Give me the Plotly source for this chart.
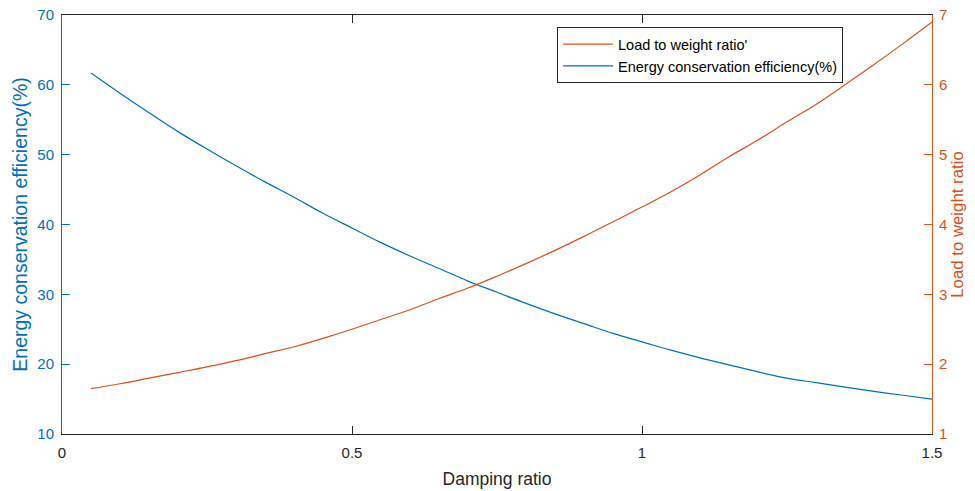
import plotly.graph_objects as go

damping = [0.05, 0.10, 0.15, 0.20, 0.25, 0.30, 0.35, 0.40, 0.45, 0.50,
           0.55, 0.60, 0.65, 0.70, 0.75, 0.80, 0.85, 0.90, 0.95, 1.00,
           1.05, 1.10, 1.15, 1.20, 1.25, 1.30, 1.35, 1.40, 1.45, 1.50]
efficiency = [61.7, 58.8, 56.0, 53.3, 50.8, 48.4, 46.1, 43.9, 41.6, 39.5,
              37.4, 35.5, 33.7, 31.9, 30.3, 28.7, 27.2, 25.8, 24.4, 23.2,
              22.0, 20.9, 19.9, 18.9, 18.0, 17.35, 16.7, 16.1, 15.55, 15.0]
load_ratio = [1.65, 1.72, 1.80, 1.88, 1.96, 2.05, 2.15, 2.25, 2.37, 2.50,
              2.64, 2.78, 2.94, 3.09, 3.26, 3.44, 3.63, 3.83, 4.04, 4.25,
              4.47, 4.71, 4.97, 5.21, 5.47, 5.72, 6.00, 6.29, 6.59, 6.90]

x_ticks = [0, 0.5, 1, 1.5]
x_labels = ["0", "0.5", "1", "1.5"]
left_ticks = [10, 20, 30, 40, 50, 60, 70]
right_ticks = [1, 2, 3, 4, 5, 6, 7]

BLUE = "#0072BD"
ORANGE = "#D95319"
DARK = "#262626"
FONT = "Liberation Sans, Arial, Helvetica, sans-serif"

fig = go.Figure()
fig.add_trace(go.Scatter(x=damping, y=efficiency, mode="lines",
                         name="Energy conservation efficiency(%)",
                         line=dict(color=BLUE, width=1.2, shape="spline"),
                         yaxis="y", legendrank=2))
fig.add_trace(go.Scatter(x=damping, y=load_ratio, mode="lines",
                         name="Load to weight ratio'",
                         line=dict(color=ORANGE, width=1.2, shape="spline"),
                         yaxis="y2", legendrank=1))

fig.update_layout(
    width=975, height=491,
    margin=dict(l=62, r=43, t=15, b=57, autoexpand=False),
    paper_bgcolor="white", plot_bgcolor="white",
    font=dict(family=FONT, size=15, color=DARK),
    xaxis=dict(range=[0, 1.5], tickvals=x_ticks, ticktext=x_labels,
               automargin=False,
               showgrid=False, zeroline=False, showline=True, linecolor=DARK,
               linewidth=1, mirror="ticks", ticks="inside", ticklen=8,
               tickcolor=DARK, tickfont=dict(size=15, color=DARK),
               ticklabelstandoff=5,
               title=dict(text="Damping ratio", font=dict(size=17.5, color=DARK),
                          standoff=12)),
    yaxis=dict(range=[10, 70], tickvals=left_ticks, showgrid=False,
               automargin=False,
               zeroline=False, showline=True, linecolor=BLUE, linewidth=1,
               ticks="inside", ticklen=8, tickcolor=BLUE,
               tickfont=dict(size=15, color=BLUE), ticklabelstandoff=4,
               title=dict(text="Energy conservation efficiency(%)",
                          font=dict(size=19.5, color=BLUE), standoff=4)),
    yaxis2=dict(range=[1, 7], tickvals=right_ticks, overlaying="y",
                automargin=False,
                side="right", showgrid=False, zeroline=False, showline=True,
                linecolor=ORANGE, linewidth=1, ticks="inside", ticklen=8,
                tickcolor=ORANGE, tickfont=dict(size=15, color=ORANGE),
                ticklabelstandoff=3,
                title=dict(text="Load to weight ratio",
                           font=dict(size=16.8, color=ORANGE), standoff=4)),
    legend=dict(x=0.569, y=0.971, xanchor="left", yanchor="top",
                bordercolor=DARK, borderwidth=1, bgcolor="white",
                font=dict(size=14.5, color="black"),
                tracegroupgap=0, itemwidth=50),
    showlegend=True,
)

fig.write_html("out.html")
